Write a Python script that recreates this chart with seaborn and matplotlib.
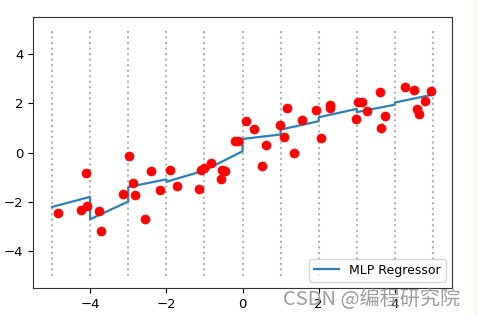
import matplotlib
matplotlib.use("Agg")
import matplotlib.pyplot as plt
from matplotlib.patches import Rectangle
import seaborn as sns
import numpy as np

# scatter data
pts_x = [-4.84, -4.25, -4.11, -4.07, -3.78, -3.72, -2.99, -3.15, -2.88, -2.82,
         -2.55, -2.39, -2.17, -1.91, -1.73, -1.15, -1.10, -1.01, -0.84, -0.53,
         -0.47, -0.57, -0.19, -0.13, 0.09, 0.31, 0.63, 0.50, 0.99, 1.16,
         1.10, 1.36, 1.56, 1.92, 2.05, 2.31, 2.31, 3.02, 3.15, 2.97,
         3.27, 3.60, 3.74, 3.63, 4.26, 4.49, 4.57, 4.63, 4.79, 4.95]
pts_y = [-2.44, -2.33, -0.85, -2.17, -2.37, -3.18, -0.15, -1.67, -1.23, -1.72,
         -2.68, -0.75, -1.52, -0.71, -1.37, -1.47, -0.71, -0.62, -0.42, -0.71,
         -0.75, -1.06, 0.46, 0.46, 1.26, 0.96, 0.30, -0.53, 1.10, 1.81,
         0.63, -0.04, 1.31, 1.71, 0.59, 1.94, 1.81, 2.05, 2.05, 1.36,
         1.67, 2.44, 1.47, 1.00, 2.65, 2.52, 1.78, 1.58, 2.11, 2.48]

# MLP regressor prediction (piecewise per bin, jumps at bin edges)
line_x = [-5, -4, -4, -3, -3, -2, -2, -1, 0, 0, 1, 1, 2, 2, 3, 3, 4, 4, 5]
line_y = [-2.21, -1.80, -2.71, -1.99, -1.40, -1.09, -1.19, -0.73, 0.05, 0.55,
          0.73, 0.93, 1.27, 1.43, 1.77, 1.64, 1.94, 2.03, 2.35]

bin_edges = [-5, -4, -3, -2, -1, 0, 1, 2, 3, 4, 5]
series_label = "MLP Regressor"
watermark = "CSDN @编程研究院"

fig = plt.figure(figsize=(4.78, 3.15), dpi=100)
ax = fig.add_axes([33 / 478, 27 / 315, 419 / 478, 271 / 315])

sns.lineplot(x=line_x, y=line_y, estimator=None, sort=False, ax=ax,
             color="#2b7fba", linewidth=1.6, label=series_label)
sns.scatterplot(x=pts_x, y=pts_y, ax=ax, color="red", s=42,
                edgecolor="red", linewidth=0.5, zorder=3)
ax.vlines(bin_edges, -5, 5, linestyles=":", colors="gray", linewidth=1.5, alpha=0.6)

ax.set_xlim(-5.5, 5.5)
ax.set_ylim(-5.5, 5.5)
ax.set_xticks([-4, -2, 0, 2, 4])
ax.set_yticks([-4, -2, 0, 2, 4])
ax.tick_params(labelsize=9.5)
for s in ax.spines.values():
    s.set_color("#333333")
ax.legend(loc="lower right", fontsize=9, handlelength=2.0)

fig.add_artist(Rectangle((473 / 478, 0), 5 / 478, 1, transform=fig.transFigure,
                         facecolor="#faf7f1", edgecolor="none"))
fig.text(0.592, 0.05, watermark, fontsize=14.5, color="#8c8c8c", alpha=0.85,
         va="center", ha="left", family=["Noto Sans CJK SC", "DejaVu Sans"])

fig.savefig("out.png", dpi=100)
